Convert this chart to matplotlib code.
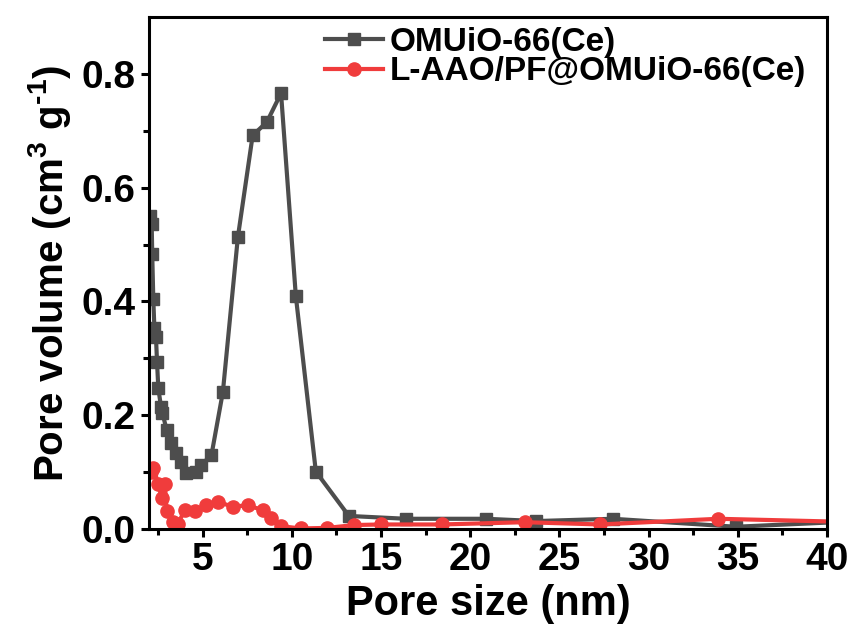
import numpy as np
import matplotlib
matplotlib.use('Agg')
import matplotlib.pyplot as plt

# Pore size distribution
size_mof = [2.08, 2.15, 2.18, 2.24, 2.30, 2.39, 2.45, 2.52, 2.67, 2.75, 2.99, 3.26,
            3.54, 3.82, 4.10, 4.66, 4.94, 5.50, 6.14, 6.98, 7.81, 8.60, 9.40,
            10.23, 11.35, 13.2, 16.4, 20.9, 23.7, 28.0, 34.9, 40.5]
vol_mof = [0.550, 0.536, 0.483, 0.404, 0.354, 0.337, 0.293, 0.248, 0.215, 0.204, 0.174, 0.151,
           0.134, 0.118, 0.099, 0.101, 0.113, 0.130, 0.241, 0.513, 0.692, 0.715, 0.766,
           0.409, 0.101, 0.023, 0.018, 0.018, 0.014, 0.018, 0.004, 0.012]

size_pf = [2.10, 2.24, 2.52, 2.70, 2.89, 2.99, 3.36, 3.60, 4.00, 4.56, 5.20, 5.86,
           6.70, 7.53, 8.37, 8.84, 9.40, 10.5, 12.0, 13.5, 15.0, 18.4, 23.05, 27.3,
           33.9, 40.5]
vol_pf = [0.100, 0.107, 0.080, 0.055, 0.079, 0.031, 0.013, 0.008, 0.033, 0.032, 0.042, 0.048,
          0.039, 0.042, 0.033, 0.019, 0.005, 0.001, 0.002, 0.007, 0.008, 0.008, 0.012, 0.008,
          0.018, 0.013]

label_mof = 'OMUiO-66(Ce)'
label_pf = 'L-AAO/PF@OMUiO-66(Ce)'

plt.rcParams['font.family'] = ['Liberation Sans', 'DejaVu Sans']
plt.rcParams['font.weight'] = 'bold'
plt.rcParams['mathtext.default'] = 'regular'

fig = plt.figure(figsize=(8.53, 6.36), dpi=100)
ax = fig.add_axes([0.1747, 0.1682, 0.7948, 0.8051])

ax.plot(size_mof, vol_mof, c='#4d4d4d', lw=3, marker='s', ms=8.5, label=label_mof)
ax.plot(size_pf, vol_pf, c='#f03c3c', lw=3, marker='o', ms=9.5, label=label_pf)

ax.set_xlim(2, 40)
ax.set_ylim(0, 0.9)
ax.set_xticks(np.arange(5, 41, 5))
ax.set_xticks(np.arange(2.5, 40, 5), minor=True)
ax.set_yticks(np.arange(0, 0.81, 0.2))
ax.set_yticks(np.arange(0.1, 0.9, 0.2), minor=True)
ax.yaxis.set_major_formatter(matplotlib.ticker.FormatStrFormatter('%.1f'))

ax.set_xlabel('Pore size (nm)', fontsize=30, fontweight='bold', labelpad=4)
ax.set_ylabel('Pore volume (cm$^3$ g$^{\u2010 1}$)', fontsize=29, fontweight='bold', labelpad=6)
ax.tick_params(which='both', direction='out', width=2.2, labelsize=28)
ax.tick_params(which='major', length=6)
ax.tick_params(which='minor', length=4)
for s in ax.spines.values():
    s.set_linewidth(2.2)

ax.legend(loc='upper left', bbox_to_anchor=(325/853, 1-27/636), bbox_transform=fig.transFigure,
          frameon=False, fontsize=24, handlelength=1.75, handletextpad=0.2,
          labelspacing=-0.05, borderpad=0, borderaxespad=0)

fig.savefig('out.png', dpi=100)
